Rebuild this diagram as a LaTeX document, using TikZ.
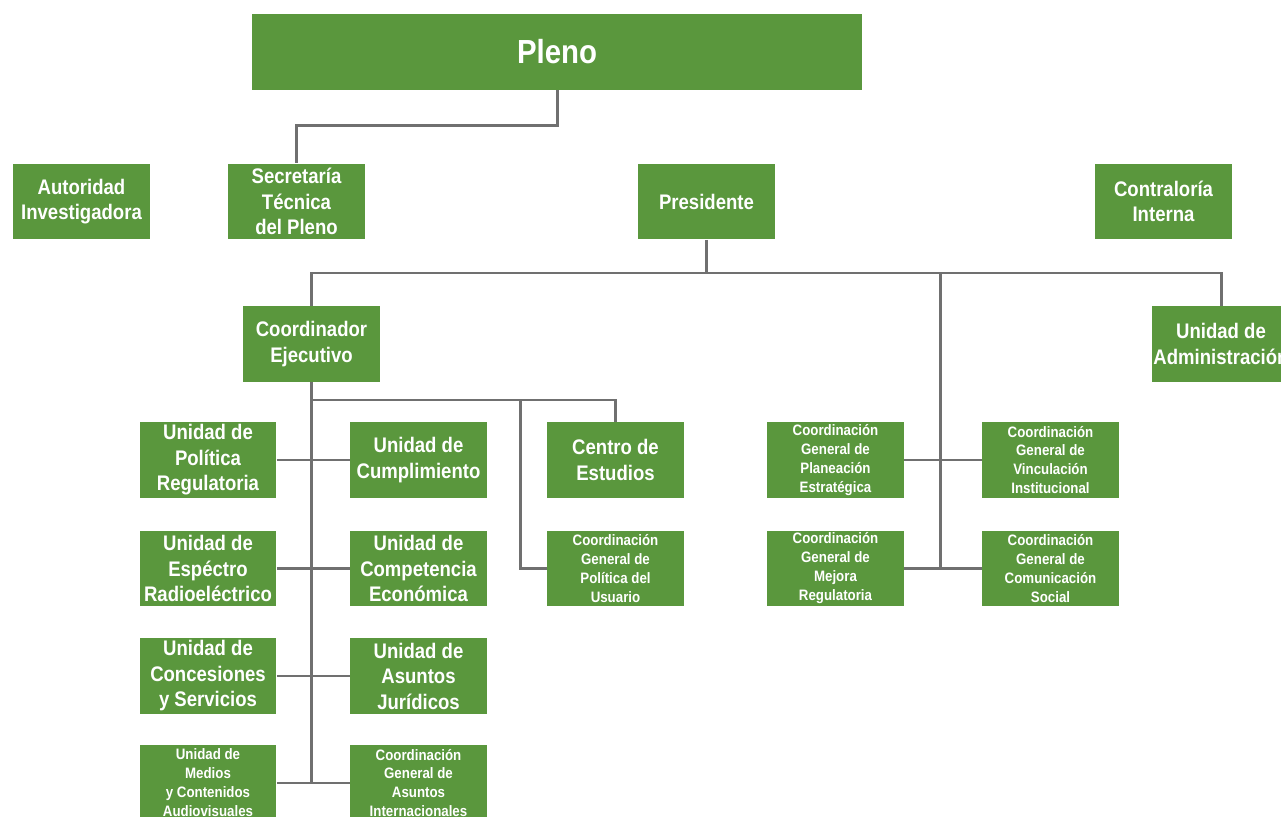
\documentclass[tikz,border=0pt]{standalone}
\usepackage{fontspec}
\setmainfont{Liberation Sans}[FakeStretch=0.88]
\usepackage{xcolor}

\definecolor{iftgreen}{RGB}{90,151,61}
\definecolor{wiregray}{RGB}{112,112,112}

\tikzset{
  unit/.style={fill=iftgreen, text=white, align=center, inner sep=1pt,
    minimum width=2.74cm, minimum height=1.52cm,
    font=\bfseries\fontsize{12}{14.5}\selectfont},
  unitsmall/.style={unit, font=\bfseries\fontsize{8.6}{10.8}\selectfont},
  wire/.style={draw=wiregray, line width=1.7pt},
}

\begin{document}
\begin{tikzpicture}[x=0.02cm, y=-0.02cm]
\useasboundingbox (0,0) rectangle (1281,817);
\clip (0,0) rectangle (1281,817);

% top level
\node[unit, minimum width=12.2cm, font=\bfseries\fontsize{19}{22}\selectfont] (pleno) at (557,52) {Pleno};
\node[unit] (autoridad) at (81.5,201.5) {Autoridad\\Investigadora};
\node[unit] (secretaria) at (296.5,201.5) {Secretaría\\Técnica\\del Pleno};
\node[unit] (presidente) at (706.5,201.5) {Presidente};
\node[unit] (contraloria) at (1163.5,201.5) {Contraloría\\Interna};

% second level
\node[unit] (coordinador) at (311.5,344) {Coordinador\\Ejecutivo};
\node[unit] (administracion) at (1221,344) {Unidad de\\Administración};

% units under the coordinator
\node[unit] (politica) at (208,460) {Unidad de\\Política\\Regulatoria};
\node[unit] (cumplimiento) at (418.5,460) {Unidad de\\Cumplimiento};
\node[unit] (espectro) at (208,568.5) {Unidad de\\Espéctro\\Radioeléctrico};
\node[unit] (competencia) at (418.5,568.5) {Unidad de\\Competencia\\Económica};
\node[unit] (concesiones) at (208,676) {Unidad de\\Concesiones\\y Servicios};
\node[unit] (juridicos) at (418.5,676) {Unidad de\\Asuntos\\Jurídicos};
\node[unitsmall] (medios) at (208,783) {Unidad de\\Medios\\y Contenidos\\Audiovisuales};
\node[unitsmall] (internacionales) at (418.5,783) {Coordinación\\General de\\Asuntos\\Internacionales};
\node[unit] (centro) at (615.5,460) {Centro de\\Estudios};
\node[unitsmall] (usuario) at (615.5,568.5) {Coordinación\\General de\\Política del\\Usuario};

% coordinations under the president
\node[unitsmall] (planeacion) at (835.5,460) {Coordinación\\General de\\Planeación\\Estratégica};
\node[unitsmall] (vinculacion) at (1050.5,460) {Coordinación\\General de\\Vinculación\\Institucional};
\node[unitsmall] (mejora) at (835.5,568.5) {Coordinación\\General de\\Mejora\\Regulatoria};
\node[unitsmall] (comunicacion) at (1050.5,568.5) {Coordinación\\General de\\Comunicación\\Social};

% connectors
\draw[wire] (pleno.south) -- ++(0,35) -| (secretaria.north);

\coordinate (busP) at (presidente.south |- 0,273);
\draw[wire] (presidente.south) -- (busP);
\draw[wire] (coordinador.north) |- (busP) -| (administracion.north);
\coordinate (hubR) at (940,568.5);
\draw[wire] (hubR |- busP) -- (hubR);
\draw[wire] (planeacion.east) -- (vinculacion.west);
\draw[wire] (mejora.east) -- (comunicacion.west);

\draw[wire] (coordinador.south) -- (coordinador.south |- medios.east);
\foreach \l/\r in {politica/cumplimiento, espectro/competencia, concesiones/juridicos, medios/internacionales}
  \draw[wire] (\l.east) -- (\r.west);
\coordinate (busC) at (coordinador.south |- 0,400);
\draw[wire] (busC) -| (centro.north);
\coordinate (hubC) at (520,400);
\draw[wire] (hubC) |- (usuario.west);
\end{tikzpicture}
\end{document}
